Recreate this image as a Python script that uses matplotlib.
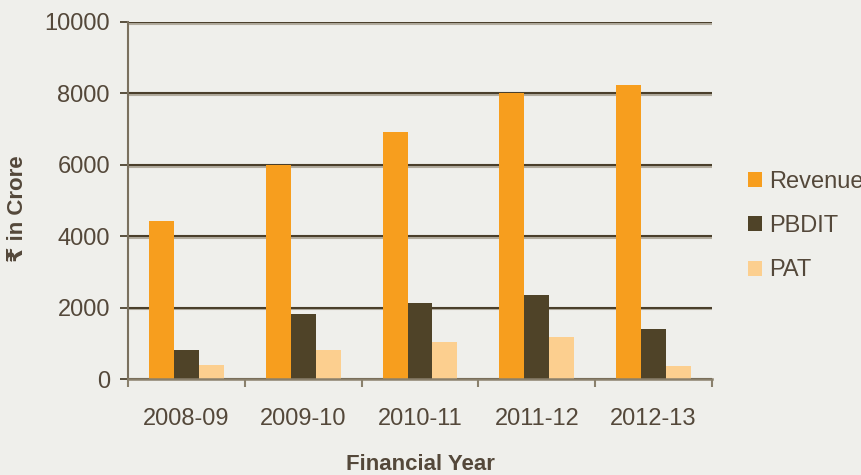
import numpy as np
import matplotlib.pyplot as plt
from matplotlib import patheffects

years = ["2008-09", "2009-10", "2010-11", "2011-12", "2012-13"]
revenue = [4430, 6000, 6920, 8010, 8240]
pbdit = [810, 1820, 2130, 2350, 1400]
pat = [390, 810, 1040, 1180, 365]

bg = "#efefeb"
text_col = "#54483a"
colors = ["#f79e1e", "#4f4328", "#fccf8f"]

plt.rcParams['font.family'] = ['Liberation Sans', 'DejaVu Sans']

fig = plt.figure(figsize=(8.62, 4.75), dpi=100, facecolor=bg)
ax = fig.add_axes([128/862, 1 - 379/475, (712 - 128)/862, (379 - 22)/475])
ax.set_facecolor(bg)

x = np.arange(len(years))
w = 0.214
for i, (vals, lab) in enumerate(zip([revenue, pbdit, pat], ["Revenue", "PBDIT", "PAT"])):
    ax.bar(x + (i - 1)*w, vals, w, color=colors[i], label=lab, zorder=2)

ax.set_xlim(-0.5, len(years) - 0.5)
ax.set_ylim(0, 10000)
ax.set_yticks(range(0, 10001, 2000))
ax.set_xticks(x)
ax.set_xticklabels(years)
ax.set_xticks(np.arange(-0.5, len(years)), minor=True)

ax.set_axisbelow(True)
ax.yaxis.grid(True, color="#4a3f2b", lw=1.5)
for gl in ax.yaxis.get_gridlines():
    gl.set_path_effects([patheffects.SimpleLineShadow(offset=(0, -1.3), shadow_color="#8a806c", alpha=0.6),
                         patheffects.Normal()])

for s in ["top", "right"]:
    ax.spines[s].set_visible(False)
ax.spines["left"].set_color("#7a705e")
ax.spines["left"].set_linewidth(1.5)
ax.spines["bottom"].set_color("#8a806c")
ax.spines["bottom"].set_linewidth(1.8)

ax.tick_params(axis="y", length=6, width=1.3, color="#4d4330", labelsize=17, labelcolor=text_col, pad=7)
ax.tick_params(axis="x", which="major", length=0, labelsize=17, labelcolor=text_col, pad=21)
ax.tick_params(axis="x", which="minor", length=6, width=1.5, color="#8a806c")

ax.set_xlabel("Financial Year", fontsize=16, fontweight="bold", color=text_col)
ax.xaxis.set_label_coords(0.5, -(465 - 379)/357)
ax.xaxis.label.set_va("center")
ax.set_ylabel("\u20b9 in Crore", fontsize=16, fontweight="bold", color=text_col,
              family=['Liberation Sans', 'DejaVu Sans'])
ax.yaxis.set_label_coords((18 - 128)/584, (379 - 209)/357)
ax.yaxis.label.set_va("center")

fig.legend(loc="center left", bbox_to_anchor=(748/862, 1 - 226/475), frameon=False,
           fontsize=17, labelcolor=text_col, handlelength=0.6, handleheight=0.6,
           handletextpad=0.3, labelspacing=0.95, borderpad=0, borderaxespad=0)

fig.savefig("out.png", dpi=100, facecolor=bg)
